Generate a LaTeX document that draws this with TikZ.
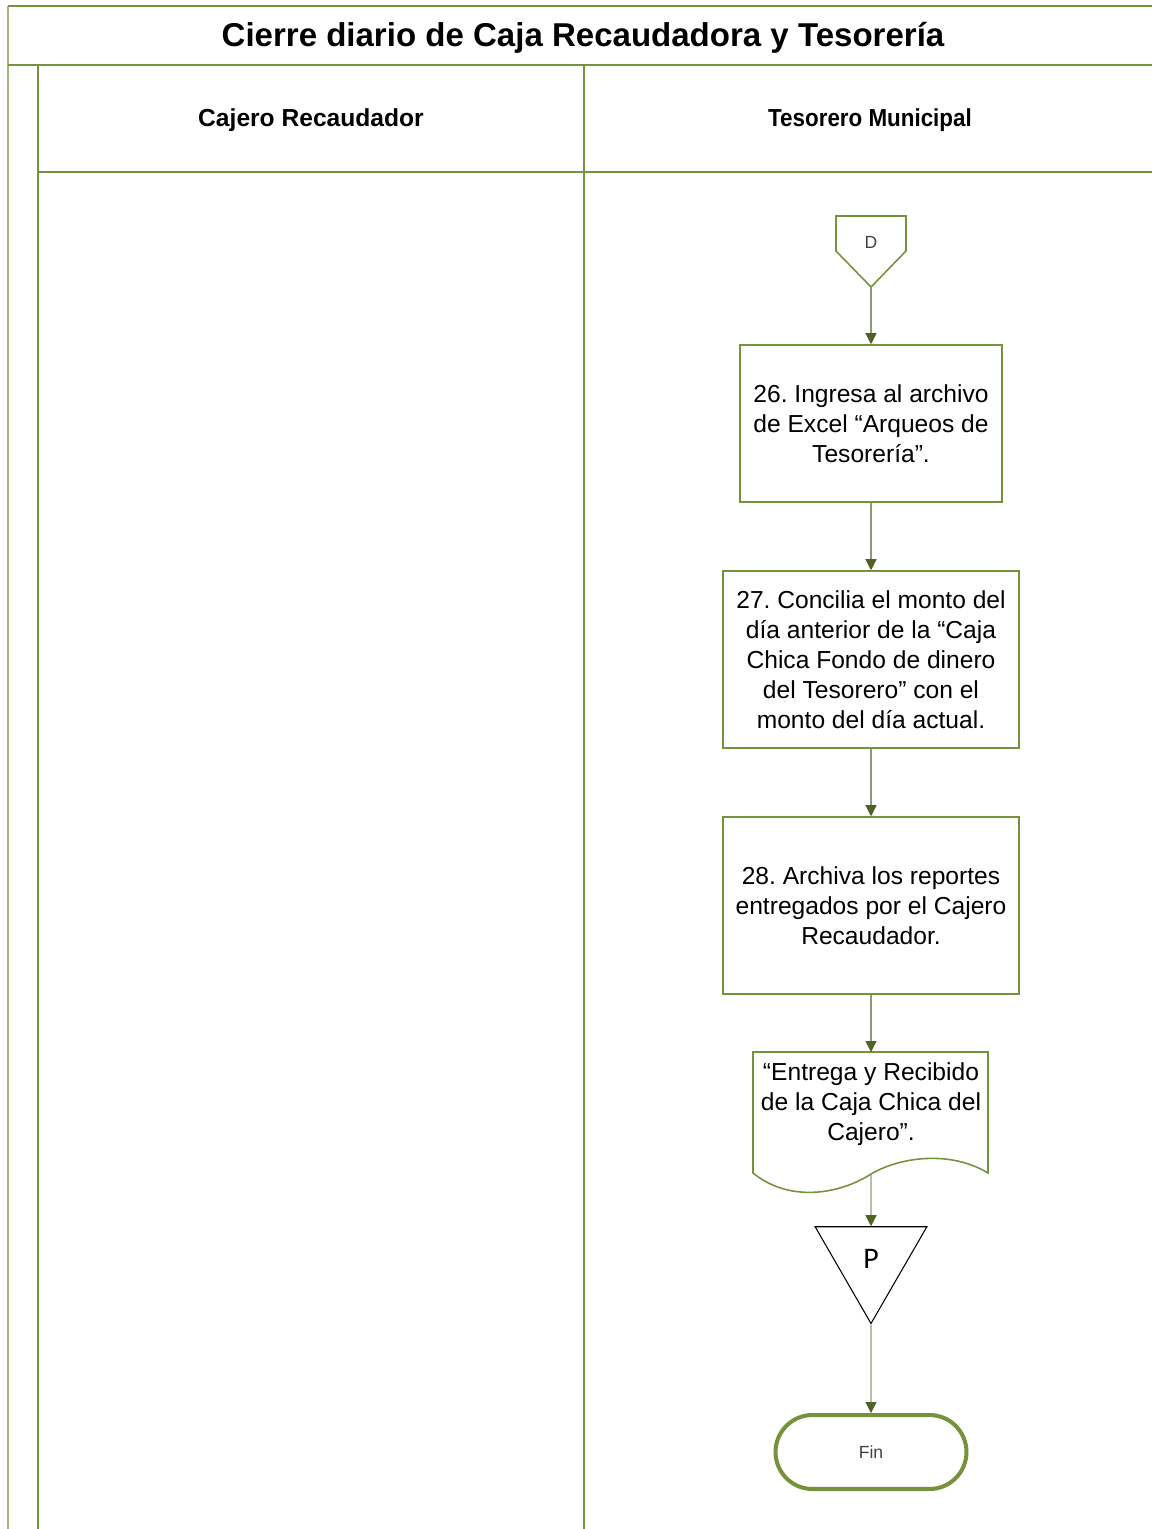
\documentclass[tikz,border=0pt]{standalone}
\usepackage{fontspec}
\setmainfont{Liberation Sans}
\newfontfamily\calibri{Carlito}
\usepackage{tikz}
\usetikzlibrary{arrows.meta, shapes.geometric}
\frenchspacing

\definecolor{lanegreen}{HTML}{76923C}
\definecolor{edgegreen}{HTML}{A3B57F}
\definecolor{tipgreen}{HTML}{4F6228}
\definecolor{flowgreen}{HTML}{8C9C72}
\definecolor{softtext}{HTML}{404040}

\begin{document}
\begin{tikzpicture}[
        x=0.02cm, y=-0.02cm,
        lane/.style={draw=lanegreen, line width=1.1pt},
        process/.style={rectangle, draw=lanegreen, line width=0.9pt, align=center, inner sep=2pt,
            font=\fontsize{14}{17}\selectfont},
        flow/.style={draw=flowgreen, line width=0.7pt, -{Triangle[length=2.2mm, width=2.2mm, color=tipgreen]}},
        header/.style={font=\bfseries\fontsize{14}{17}\selectfont}
    ]
    \useasboundingbox (0,0) rectangle (1152,1529);

    % swimlane frame
    \draw[draw=edgegreen, line width=1.1pt] (8,6) -- (8,1529);
    \draw[lane] (8,6) -- (1152,6);
    \draw[lane] (8,65) -- (1152,65);
    \draw[lane] (38,65) -- (38,1529);
    \draw[lane] (584,65) -- (584,1529);
    \draw[lane] (38,172) -- (1152,172);

    \node[font=\bfseries\fontsize{18.8}{22}\selectfont] (title) at (583,38) {Cierre diario de Caja Recaudadora y Tesorería};
    \node[header] (cajero) at (311,120) {Cajero Recaudador};
    \node[header] (tesorero) at (870,120) {\scalebox{0.91}[1]{Tesorero Municipal}};

    % off-page connector D
    \draw[lane, line width=0.9pt] (836,216) -- (906,216) -- (906,251) -- (871,287) coordinate (dtip) -- (836,251) -- cycle;
    \node[text=softtext, font=\fontsize{10}{12}\selectfont] (dcon) at (871,242) {D};

    \node[process, minimum width=5.24cm, minimum height=3.14cm] (box1) at (871,423.5)
        {26. Ingresa al archivo\\de Excel “Arqueos de\\Tesorería”.};
    \node[process, minimum width=5.92cm, minimum height=3.54cm] (box2) at (871,659.5)
        {27. Concilia el monto del\\día anterior de la “Caja\\Chica Fondo de dinero\\del Tesorero” con el\\monto del día actual.};
    \node[process, minimum width=5.92cm, minimum height=3.54cm] (box3) at (871,905.5)
        {28. Archiva los reportes\\entregados por el Cajero\\Recaudador.};

    % document shape
    \draw[lane, line width=0.9pt] (753,1173) -- (753,1052) -- (988,1052) -- (988,1173)
        .. controls (950,1150) and (900,1157) .. (871,1174)
        .. controls (840,1194) and (790,1203) .. cycle;
    \coordinate (doctop) at (871,1052);
    \coordinate (docbot) at (871,1174);
    \node[align=center, font=\fontsize{14}{17}\selectfont] (doc) at (871,1104)
        {“Entrega y Recibido\\de la Caja Chica del\\Cajero”.};

    \node[regular polygon, regular polygon sides=3, shape border rotate=180, draw=black, line width=0.6pt,
        minimum size=2.58cm, inner sep=0pt, font=\calibri\fontsize{17}{20}\selectfont] (perm) at (871,1259) {P};

    \node[rectangle, rounded corners=0.74cm, draw=lanegreen, line width=2.3pt, minimum width=3.82cm,
        minimum height=1.48cm, text=softtext, font=\fontsize{10}{12}\selectfont] (fin) at (871,1452) {Fin};

    \draw[flow] (dtip) -- (box1.north);
    \foreach \a/\b in {box1/box2, box2/box3} {
        \draw[flow] (\a.south) -- (\b.north);
    }
    \draw[flow] (box3.south) -- (doctop);
    \draw[flow] (docbot) -- (perm.north);
    \draw[flow] (perm.south) -- (fin.north);
\end{tikzpicture}
\end{document}
